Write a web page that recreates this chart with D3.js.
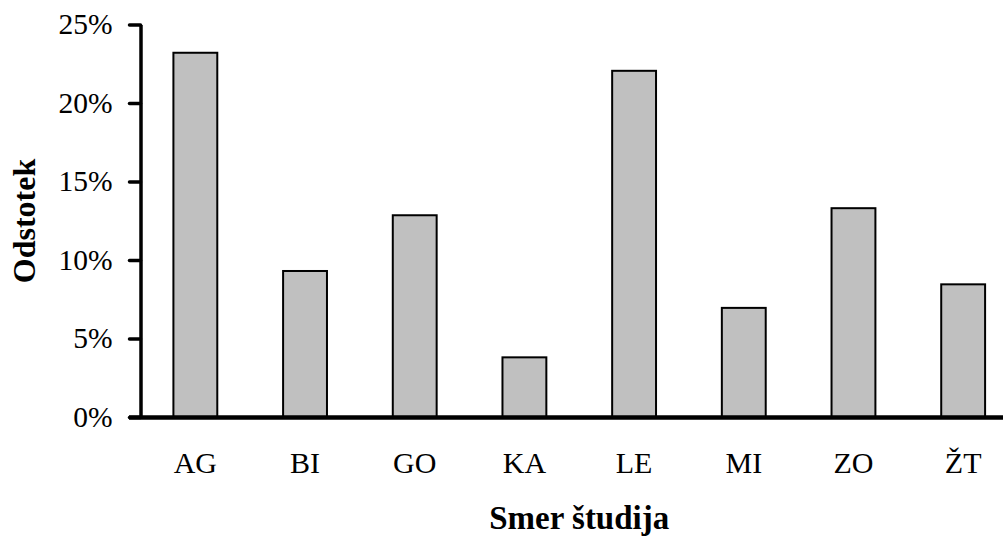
<!DOCTYPE html>
<html>
<head>
<meta charset="utf-8">
<script src="https://cdn.jsdelivr.net/npm/d3@7"></script>
<style>
  html, body { margin: 0; padding: 0; background: #fff; }
  svg { display: block; }
  text { font-family: "Liberation Serif", "Times New Roman", serif; fill: #000; }
</style>
</head>
<body>
<svg id="chart" width="1003" height="536"></svg>
<script>
// Share of students by field of study
const categories = ["AG", "BI", "GO", "KA", "LE", "MI", "ZO", "ŽT"];
const shares = [23.2, 9.3, 12.85, 3.8, 22.05, 6.95, 13.3, 8.45];
const yTicks = [0, 5, 10, 15, 20, 25];

const svg = d3.select("#chart");
const plotLeft = 140.5, plotRight = 1018, plotTop = 24.5, plotBottom = 417;

const x = d3.scaleBand().domain(categories).range([plotLeft, plotRight]).paddingInner(0.6).paddingOuter(0.3);
const y = d3.scaleLinear().domain([0, 25]).range([plotBottom, plotTop]);

// bars
svg.append("g").selectAll("rect")
  .data(categories.map((c, i) => ({ c, v: shares[i] })))
  .join("rect")
  .attr("x", d => x(d.c))
  .attr("width", x.bandwidth())
  .attr("y", d => y(d.v))
  .attr("height", d => y(0) - y(d.v))
  .attr("fill", "#c0c0c0")
  .attr("stroke", "#000")
  .attr("stroke-width", 2);

// y axis
const yAxis = svg.append("g")
  .attr("transform", `translate(${plotLeft},0)`)
  .call(d3.axisLeft(y).tickValues(yTicks).tickFormat(d => d + "%").tickSize(11).tickSizeOuter(0).tickPadding(17));
yAxis.select(".domain").attr("stroke", "#000").attr("stroke-width", 3.5);
yAxis.selectAll(".tick line").attr("stroke", "#000").attr("stroke-width", 3.5).attr("stroke-linecap", "round");
yAxis.selectAll(".tick text").attr("font-size", 29.5).attr("font-family", "Liberation Serif").attr("fill", "#000");

// x axis baseline and labels
const xAxis = svg.append("g")
  .attr("transform", `translate(0,${plotBottom})`)
  .call(d3.axisBottom(x).tickSize(0).tickPadding(35));
xAxis.select(".domain").remove();
xAxis.selectAll(".tick text").attr("font-size", 30).attr("font-family", "Liberation Serif").attr("fill", "#000");

svg.append("line")
  .attr("x1", 129).attr("x2", plotRight)
  .attr("y1", plotBottom + 0.5).attr("y2", plotBottom + 0.5)
  .attr("stroke", "#000").attr("stroke-width", 4.5);

// axis titles
svg.append("text")
  .attr("transform", "translate(35,221) rotate(-90)")
  .attr("text-anchor", "middle")
  .attr("font-size", 32)
  .attr("font-weight", "bold")
  .text("Odstotek");

svg.append("text")
  .attr("x", (plotLeft + plotRight) / 2).attr("y", 529)
  .attr("text-anchor", "middle")
  .attr("font-size", 33)
  .attr("font-weight", "bold")
  .text("Smer študija");
</script>
</body>
</html>
